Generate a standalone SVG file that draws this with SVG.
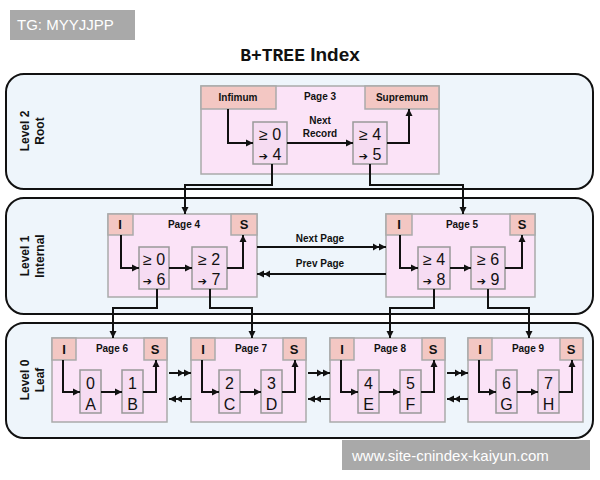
<svg xmlns="http://www.w3.org/2000/svg" width="600" height="480" viewBox="0 0 600 480">
<defs>
<marker id="ah" markerWidth="8" markerHeight="8" refX="7" refY="4" orient="auto" markerUnits="userSpaceOnUse"><path d="M0,0.5 L7,4 L0,7.5 z" fill="#111"/></marker>
<marker id="dh" markerWidth="14" markerHeight="8" refX="13" refY="4" orient="auto" markerUnits="userSpaceOnUse"><path d="M0,0.5 L6,4 L0,7.5 z M6,0.5 L13,4 L6,7.5 z" fill="#111"/></marker>
<style>
.band{fill:#eef5fb;stroke:#111;stroke-width:2}
.page{fill:#fbe3f7;stroke:#aaa;stroke-width:1.5}
.hdr{fill:#f3c7c3;stroke:#aaa;stroke-width:1.5}
.rec{fill:#f6dcf2;stroke:#999;stroke-width:1.5}
.ln{fill:none;stroke:#111;stroke-width:2}
.a{marker-end:url(#ah)}
.d{marker-end:url(#dh)}
.t{font-family:"Liberation Sans",Arial,sans-serif;font-weight:bold;font-size:10px;fill:#111;text-anchor:middle}
.h{font-family:"Liberation Sans",Arial,sans-serif;font-weight:bold;font-size:13px;fill:#111;text-anchor:middle}
.r{font-family:"Liberation Sans",Arial,sans-serif;font-size:16px;fill:#111;text-anchor:middle}
.ar{font-family:"DejaVu Sans",sans-serif;font-size:11px;font-weight:bold}
.lv{font-family:"Liberation Sans",Arial,sans-serif;font-weight:bold;font-size:12px;fill:#111;text-anchor:middle}
.wm{font-family:"Liberation Sans",Arial,sans-serif;font-size:15px;fill:#fff}
</style>
</defs>
<rect width="600" height="480" fill="#fff"/>
<g id="wm1"><rect x="10" y="10" width="125" height="30" fill="#a9a9a9"/><text class="wm" x="17" y="30">TG: MYYJJPP</text></g>
<text x="300" y="61" text-anchor="middle" font-size="19" font-weight="bold" font-family="'Liberation Sans',Arial,sans-serif" fill="#111"><tspan font-family="'Liberation Mono',monospace" font-size="18">B+TREE</tspan> Index</text>

<g id="bands">
<rect class="band" x="6" y="74" width="587" height="115" rx="18"/>
<rect class="band" x="6" y="198" width="587" height="116" rx="18"/>
<rect class="band" x="6" y="323" width="587" height="115" rx="18"/>
<text class="lv" transform="translate(29,131) rotate(-90)">Level  2</text>
<text class="lv" transform="translate(44,131) rotate(-90)">Root</text>
<text class="lv" transform="translate(29,256) rotate(-90)">Level  1</text>
<text class="lv" transform="translate(44,256) rotate(-90)">Internal</text>
<text class="lv" transform="translate(29,380) rotate(-90)">Level  0</text>
<text class="lv" transform="translate(44,380) rotate(-90)">Leaf</text>
</g>

<g id="page3">
<rect class="page" x="201" y="86" width="238" height="88"/>
<rect class="hdr" x="201" y="86" width="75" height="23"/>
<rect class="hdr" x="365" y="86" width="74" height="23"/>
<text class="t" x="238" y="101">Infimum</text>
<text class="t" x="402" y="101">Supremum</text>
<text class="t" x="320" y="100">Page 3</text>
<rect class="rec" x="253" y="122" width="34" height="42"/>
<rect class="rec" x="353" y="122" width="34" height="42"/>
<text class="r" x="270" y="140">≥ 0</text><text class="r" x="270" y="160"><tspan class="ar">➔</tspan> 4</text>
<text class="r" x="370" y="140">≥ 4</text><text class="r" x="370" y="160"><tspan class="ar">➔</tspan> 5</text>
<text class="t" x="320" y="124">Next</text><text class="t" x="320" y="137">Record</text>
</g>

<g id="page4">
<rect class="page" x="108" y="214" width="149" height="83"/>
<rect class="hdr" x="108" y="214" width="25" height="21"/>
<rect class="hdr" x="231" y="214" width="26" height="21"/>
<text class="h" x="120" y="229">I</text><text class="h" x="244" y="229">S</text>
<text class="t" x="184" y="228">Page 4</text>
<rect class="rec" x="139" y="247" width="30" height="42"/>
<rect class="rec" x="192" y="247" width="35" height="42"/>
<text class="r" x="154" y="265">≥ 0</text><text class="r" x="154" y="285"><tspan class="ar">➔</tspan> 6</text>
<text class="r" x="209" y="265">≥ 2</text><text class="r" x="209" y="285"><tspan class="ar">➔</tspan> 7</text>
</g>
<g id="page5">
<rect class="page" x="386" y="214" width="149" height="83"/>
<rect class="hdr" x="386" y="214" width="26" height="21"/>
<rect class="hdr" x="510" y="214" width="25" height="21"/>
<text class="h" x="399" y="229">I</text><text class="h" x="522" y="229">S</text>
<text class="t" x="462" y="228">Page 5</text>
<rect class="rec" x="418" y="247" width="32" height="42"/>
<rect class="rec" x="471" y="247" width="34" height="42"/>
<text class="r" x="434" y="265">≥ 4</text><text class="r" x="434" y="285"><tspan class="ar">➔</tspan> 8</text>
<text class="r" x="488" y="265">≥ 6</text><text class="r" x="488" y="285"><tspan class="ar">➔</tspan> 9</text>
</g>

<g id="page6">
<rect class="page" x="52" y="338" width="115" height="84"/>
<rect class="hdr" x="52" y="338" width="24" height="22"/><rect class="hdr" x="144" y="338" width="23" height="22"/>
<text class="h" x="64" y="354">I</text><text class="h" x="155" y="354">S</text>
<text class="t" x="112" y="352">Page 6</text>
<rect class="rec" x="80" y="370" width="21" height="43"/><rect class="rec" x="122" y="370" width="21" height="43"/>
<text class="r" x="90.5" y="389">0</text><text class="r" x="90.5" y="410">A</text>
<text class="r" x="132.5" y="389">1</text><text class="r" x="132.5" y="410">B</text>
</g>
<g id="page7">
<rect class="page" x="191" y="338" width="115" height="84"/>
<rect class="hdr" x="191" y="338" width="24" height="22"/><rect class="hdr" x="283" y="338" width="23" height="22"/>
<text class="h" x="203" y="354">I</text><text class="h" x="294" y="354">S</text>
<text class="t" x="251" y="352">Page 7</text>
<rect class="rec" x="219" y="370" width="21" height="43"/><rect class="rec" x="261" y="370" width="21" height="43"/>
<text class="r" x="229.5" y="389">2</text><text class="r" x="229.5" y="410">C</text>
<text class="r" x="271.5" y="389">3</text><text class="r" x="271.5" y="410">D</text>
</g>
<g id="page8">
<rect class="page" x="330" y="338" width="115" height="84"/>
<rect class="hdr" x="330" y="338" width="24" height="22"/><rect class="hdr" x="422" y="338" width="23" height="22"/>
<text class="h" x="342" y="354">I</text><text class="h" x="433" y="354">S</text>
<text class="t" x="390" y="352">Page 8</text>
<rect class="rec" x="358" y="370" width="21" height="43"/><rect class="rec" x="400" y="370" width="21" height="43"/>
<text class="r" x="368.5" y="389">4</text><text class="r" x="368.5" y="410">E</text>
<text class="r" x="410.5" y="389">5</text><text class="r" x="410.5" y="410">F</text>
</g>
<g id="page9">
<rect class="page" x="468" y="338" width="115" height="84"/>
<rect class="hdr" x="468" y="338" width="24" height="22"/><rect class="hdr" x="560" y="338" width="23" height="22"/>
<text class="h" x="480" y="354">I</text><text class="h" x="571" y="354">S</text>
<text class="t" x="528" y="352">Page 9</text>
<rect class="rec" x="496" y="370" width="21" height="43"/><rect class="rec" x="538" y="370" width="21" height="43"/>
<text class="r" x="506.5" y="389">6</text><text class="r" x="506.5" y="410">G</text>
<text class="r" x="548.5" y="389">7</text><text class="r" x="548.5" y="410">H</text>
</g>

<g id="connectors">
<path class="ln a" d="M228,109 V143 H253"/>
<path class="ln a" d="M287,143 H353"/>
<path class="ln a" d="M387,143 H409 V109"/>
<path class="ln a" d="M272,164 V185 H185 V214"/>
<path class="ln a" d="M370,164 V185 H463 V214"/>

<path class="ln a" d="M121,235 V268 H139"/>
<path class="ln a" d="M169,268 H192"/>
<path class="ln a" d="M227,268 H243 V235"/>
<path class="ln a" d="M400,235 V268 H418"/>
<path class="ln a" d="M450,268 H471"/>
<path class="ln a" d="M505,268 H522 V235"/>
<path class="ln d" d="M257,247 H386"/>
<path class="ln d" d="M386,274 H257"/>
<text class="t" x="320" y="242">Next Page</text>
<text class="t" x="320" y="267">Prev Page</text>

<path class="ln a" d="M157,289 V308 H113 V338"/>
<path class="ln a" d="M210,289 V308 H252 V338"/>
<path class="ln a" d="M434,289 V308 H390 V338"/>
<path class="ln a" d="M488,289 V308 H529 V338"/>

<path class="ln a" d="M63,360 V392 H80"/><path class="ln a" d="M101,392 H122"/><path class="ln a" d="M143,392 H156 V360"/>
<path class="ln a" d="M202,360 V392 H219"/><path class="ln a" d="M240,392 H261"/><path class="ln a" d="M282,392 H295 V360"/>
<path class="ln a" d="M341,360 V392 H358"/><path class="ln a" d="M379,392 H400"/><path class="ln a" d="M421,392 H434 V360"/>
<path class="ln a" d="M479,360 V392 H496"/><path class="ln a" d="M517,392 H538"/><path class="ln a" d="M559,392 H572 V360"/>

<path class="ln d" d="M169,373 H191"/><path class="ln d" d="M191,399 H169"/>
<path class="ln d" d="M308,373 H330"/><path class="ln d" d="M330,399 H308"/>
<path class="ln d" d="M447,373 H468"/><path class="ln d" d="M468,399 H447"/>
</g>

<g id="wm2"><rect x="342" y="440" width="248" height="30" fill="#a9a9a9"/><text class="wm" x="352" y="461">www.site-cnindex-kaiyun.com</text></g>
</svg>
